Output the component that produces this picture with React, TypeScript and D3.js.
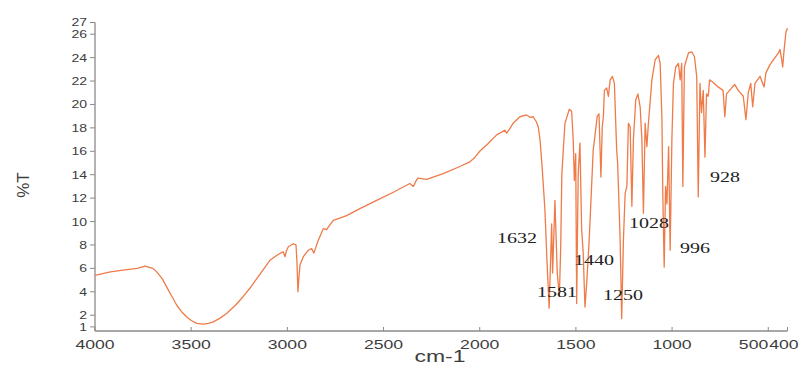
import * as d3 from 'd3';

const wavenumber = [
  4000, 3920, 3835, 3780, 3740, 3700, 3679, 3650, 3627, 3600, 3575, 3550, 3523, 3500, 3471, 3437,
  3410, 3385, 3350, 3316, 3270, 3229, 3195, 3160, 3125, 3090, 3056, 3030, 3021, 3012, 3005, 2995,
  2969, 2955, 2950, 2945, 2940, 2934, 2917, 2891, 2874, 2862, 2850, 2839, 2813, 2796, 2780, 2761,
  2692, 2623, 2536, 2449, 2363, 2345, 2330, 2321, 2276, 2190, 2103, 2051, 2030, 2000, 1960, 1912,
  1870, 1860, 1845, 1826, 1791, 1756, 1739, 1722, 1705, 1696, 1686, 1675, 1661, 1650, 1639, 1626,
  1621, 1609, 1597, 1586, 1579, 1573, 1557, 1534, 1522, 1514, 1508, 1501, 1496, 1488, 1479, 1470,
  1462, 1453, 1444, 1431, 1410, 1389, 1380, 1370, 1363, 1357, 1352, 1340, 1331, 1322, 1310, 1300,
  1288, 1283, 1270, 1262, 1253, 1244, 1235, 1227, 1218, 1209, 1201, 1189, 1178, 1166, 1157, 1149,
  1140, 1131, 1123, 1105, 1088, 1071, 1062, 1053, 1048, 1041, 1034, 1027, 1018, 1010, 1001, 993,
  981, 967, 958, 950, 944, 936, 915, 898, 884, 872, 864, 855, 847, 838, 829, 821,
  812, 805, 788, 761, 735, 726, 717, 691, 674, 656, 630, 616, 604, 591, 581, 569,
  543, 522, 512, 491, 465, 447, 439, 430, 425, 418, 408, 400,
];

const transmittance = [
  5.4, 5.7, 5.9, 6.0, 6.2, 6.0, 5.7, 5.1, 4.4, 3.6, 2.85, 2.3, 1.85, 1.55, 1.3, 1.23,
  1.3, 1.43, 1.75, 2.15, 2.85, 3.6, 4.3, 5.1, 5.9, 6.7, 7.1, 7.35, 7.4, 7.0, 7.5, 7.85,
  8.1, 8.0, 6.5, 4.0, 5.2, 6.3, 7.0, 7.55, 7.7, 7.3, 7.9, 8.4, 9.4, 9.3, 9.7, 10.1,
  10.5, 11.1, 11.8, 12.5, 13.25, 13.0, 13.5, 13.7, 13.6, 14.1, 14.7, 15.1, 15.4, 16.0, 16.6, 17.4,
  17.8, 17.55, 17.9, 18.4, 18.95, 19.1, 18.9, 18.95, 18.5, 18.1, 16.9, 14.5, 11.0, 6.5, 2.6, 9.8,
  5.6, 11.8, 5.6, 3.6, 7.8, 14.1, 18.4, 19.6, 19.4, 17.0, 13.5, 15.8, 3.0, 14.1, 16.7, 9.3,
  7.3, 2.7, 4.7, 8.4, 16.1, 19.0, 19.2, 13.8, 18.1, 19.0, 21.2, 21.4, 20.7, 22.1, 22.4, 21.8,
  16.1, 15.0, 8.4, 1.7, 8.4, 12.4, 13.0, 18.4, 18.1, 11.3, 17.0, 20.4, 20.9, 19.8, 17.0, 10.7,
  18.4, 16.4, 18.4, 22.1, 23.8, 24.2, 23.5, 18.95, 12.1, 6.1, 13.0, 11.5, 16.4, 7.55, 17.0, 21.8,
  23.2, 23.5, 22.1, 23.5, 13.0, 23.2, 24.4, 24.5, 24.1, 22.4, 12.1, 21.8, 19.3, 21.2, 15.5, 20.9,
  20.7, 22.1, 21.9, 21.5, 21.2, 18.95, 20.9, 21.4, 21.7, 21.2, 20.7, 18.7, 21.0, 21.8, 19.8, 21.8,
  22.4, 21.5, 22.7, 23.4, 24.0, 24.4, 24.7, 23.8, 23.2, 24.6, 26.2, 26.5,
];

const xTickValues = [4000, 3500, 3000, 2500, 2000, 1500, 1000, 500, 400];
const yTickValues = [1, 2, 4, 6, 8, 10, 12, 14, 16, 18, 20, 22, 24, 26, 27];

// peak labels, anchored in data units (wavenumber, %T) at the text's left baseline
const peakLabels = ['1632', '1581', '1440', '1250', '1028', '996', '928'];
const peakLabelWn = [1910, 1702, 1510, 1359, 1224, 959, 803];
const peakLabelT = [8.17, 3.55, 6.29, 3.3, 9.42, 7.27, 13.38];

export default function App() {
  const width = 803;
  const height = 368;
  const margin = { top: 22.5, right: 15.5, bottom: 37, left: 95 };

  const x = d3.scaleLinear().domain([4000, 400]).range([margin.left, width - margin.right]);
  const y = d3
    .scaleLinear()
    .domain([0.65, 27])
    .range([height - margin.bottom, margin.top]);

  const points = wavenumber.map((w, i) => [w, transmittance[i]] as [number, number]);
  const line = d3
    .line<[number, number]>()
    .x((d) => x(d[0]))
    .y((d) => y(d[1]));

  const axisColor = '#8a8a8a';
  const labelColor = '#3d3d3d';
  const baseY = y.range()[0];

  return (
    <svg
      width={width}
      height={height}
      style={{ position: 'absolute', left: 0, top: 0, background: '#fff' }}
      fontFamily="'Liberation Sans', Arial, sans-serif"
    >
      {/* y axis */}
      <line x1={margin.left} x2={margin.left} y1={y(27)} y2={baseY} stroke={axisColor} strokeWidth={1.3} />
      {yTickValues.map((t) => (
        <g key={`y-${t}`} transform={`translate(0,${y(t)})`}>
          <line x1={margin.left - 5} x2={margin.left} stroke={axisColor} strokeWidth={1} />
          <text
            x={margin.left - 8}
            dy="0.36em"
            textAnchor="end"
            fontSize={11}
            fill={labelColor}
            textLength={String(t).length * 7.8}
            lengthAdjust="spacingAndGlyphs"
          >
            {t}
          </text>
        </g>
      ))}

      {/* x axis */}
      <line x1={margin.left} x2={x(400)} y1={baseY} y2={baseY} stroke={axisColor} strokeWidth={1.3} />
      {xTickValues.map((t) => {
        const label = String(t);
        let tx = x(t);
        let anchor: 'middle' | 'end' | 'start' = 'middle';
        if (t === 500) anchor = 'end';
        if (t === 400) {
          anchor = 'start';
          tx = x(500) + 1;
        }
        return (
          <g key={`x-${t}`}>
            <line x1={x(t)} x2={x(t)} y1={baseY} y2={baseY - 4} stroke={axisColor} strokeWidth={1} />
            <text
              x={tx}
              y={baseY + 18}
              textAnchor={anchor}
              fontSize={13}
              fill={labelColor}
              textLength={label.length * 9.8}
              lengthAdjust="spacingAndGlyphs"
            >
              {label}
            </text>
          </g>
        );
      })}

      <text
        x={440}
        y={height - 6}
        textAnchor="middle"
        fontSize={16}
        fill={labelColor}
        textLength={51}
        lengthAdjust="spacingAndGlyphs"
      >
        cm-1
      </text>
      <text
        transform={`translate(23,185) rotate(-90)`}
        textAnchor="middle"
        dy="0.36em"
        fontSize={17}
        fill={labelColor}
      >
        %T
      </text>

      <path d={line(points) ?? ''} fill="none" stroke="#ee7b48" strokeWidth={1.3} strokeLinejoin="round" />

      {peakLabels.map((label, i) => (
        <text
          key={label}
          x={x(peakLabelWn[i])}
          y={y(peakLabelT[i])}
          fontFamily="'Liberation Serif', 'Times New Roman', serif"
          fontSize={15}
          fill="#222"
          textLength={label.length * 10}
          lengthAdjust="spacingAndGlyphs"
        >
          {label}
        </text>
      ))}
    </svg>
  );
}
